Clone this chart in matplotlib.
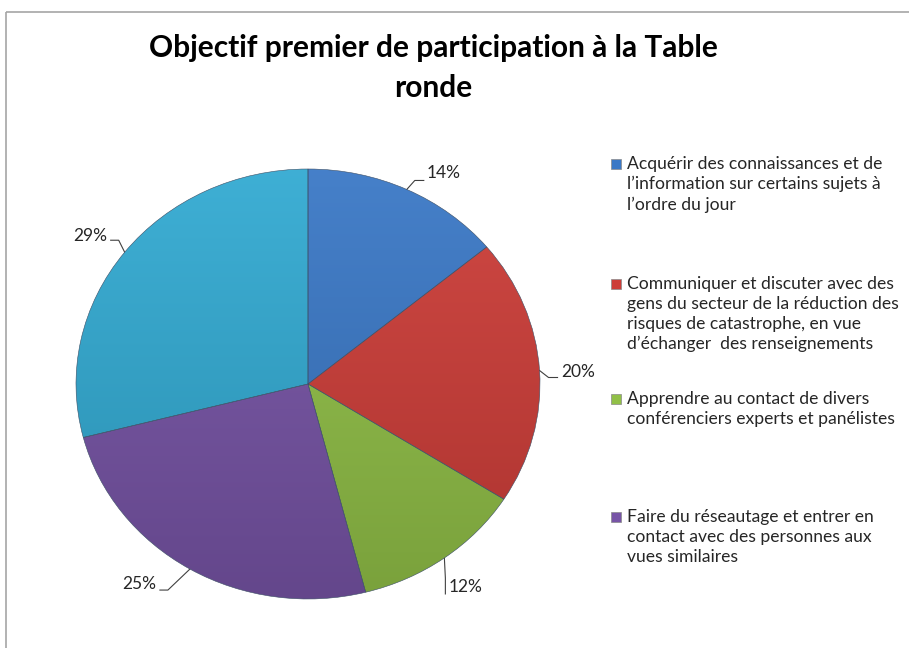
import numpy as np
import matplotlib
matplotlib.use("Agg")
import matplotlib.pyplot as plt
from matplotlib.colors import to_rgb
from matplotlib.patches import Rectangle

plt.rcParams['font.family'] = ['Lato', 'DejaVu Sans']

title = "Objectif premier de participation à la Table\nronde"
categories = [
    "Acquérir des connaissances et de\nl’information sur certains sujets à\nl’ordre du jour",
    "Communiquer et discuter avec des\ngens du secteur de la réduction des\nrisques de catastrophe, en vue\nd’échanger  des renseignements",
    "Apprendre au contact de divers\nconférenciers experts et panélistes",
    "Faire du réseautage et entrer en\ncontact avec des personnes aux\nvues similaires",
    "",
]
values = [14, 20, 12, 25, 29]
pct_labels = ["14%", "20%", "12%", "25%", "29%"]
colors = ["#3a78c6", "#cd3d38", "#91c047", "#7754a6", "#32aad2"]

W, H = 909, 648
fig = plt.figure(figsize=(W / 100, H / 100), dpi=100)
fig.patch.set_facecolor("white")

# overlay in image pixel coords (y down)
ov = fig.add_axes([0, 0, 1, 1])
ov.set_xlim(0, W)
ov.set_ylim(H, 0)
ov.axis("off")
ov.add_patch(Rectangle((5.5, 11.5), W + 20, H + 20, fill=False,
                       edgecolor="#a6a6a6", lw=1.2))

# pie box (ellipse, slightly wider than tall)
cx, cy, rx, ry = 308, 384, 232, 215
ax = fig.add_axes([(cx - rx) / W, (H - cy - ry) / H, 2 * rx / W, 2 * ry / H])
wedges, _ = ax.pie(values, colors=colors, startangle=90, counterclock=False,
                   radius=1, wedgeprops=dict(edgecolor="#3c4f66", linewidth=0.4))
ax.set_aspect("auto")
ax.set_xlim(-1, 1)
ax.set_ylim(-1, 1)
ax.axis("off")

# vertical gradient inside each slice
grad = np.linspace(0, 1, 256)[:, None]
for w, c in zip(wedges, colors):
    base = np.array(to_rgb(c))
    top = base + (1 - base) * 0.06
    bot = base * 0.84
    img = top[None, None, :] * (1 - grad[..., None]) + bot[None, None, :] * grad[..., None]
    img = np.repeat(img, 2, axis=1)
    im = ax.imshow(img, extent=(-1, 1, -1, 1), origin="upper", aspect="auto",
                   zorder=w.get_zorder() + 0.1)
    im.set_clip_path(w)
    w.set_facecolor("none")
    w.set_zorder(w.get_zorder() + 0.2)

# leader layout: (elbow dx, dy), (end dx, dy), (text dx, dy), ha
leaders = [
    ((8, -9), (17, -9), (20, -16), "left"),
    ((9, 7), (18, 7), (22, 1), "left"),
    ((1, 20), (1, 36), (4, 29), "left"),
    ((-22, 21), (-30, 21), (-34, 15), "right"),
    ((-6, -12), (-14, -12), (-17, -16), "right"),
]

to_px = ov.transData.inverted()
for w, lab, (e, n, t, ha) in zip(wedges, pct_labels, leaders):
    mid = np.deg2rad((w.theta1 + w.theta2) / 2)
    disp = ax.transData.transform((np.cos(mid), np.sin(mid)))
    px, py = to_px.transform(disp)
    ov.plot([px, px + e[0], px + n[0]], [py, py + e[1], py + n[1]],
            color="#404040", lw=0.8)
    ov.text(px + t[0], py + t[1], lab, ha=ha, va="center",
            fontsize=12.5, color="#262626")

fig.text(433 / W, 1 - 68 / H, title, ha="center", va="center",
         fontsize=21.5, fontweight="bold", color="black", linespacing=1.5)

# legend
leg_y = [164, 284, 399, 517]
for c, txt, y in zip(colors, categories, leg_y):
    ov.add_patch(Rectangle((611, y - 5), 10, 10, facecolor=c,
                           edgecolor="#8a8a8a", lw=0.5))
    ov.text(627, y - 8, txt, ha="left", va="top", fontsize=12.6,
            color="#262626", linespacing=1.3)

fig.savefig("out.png", dpi=100, facecolor="white")
